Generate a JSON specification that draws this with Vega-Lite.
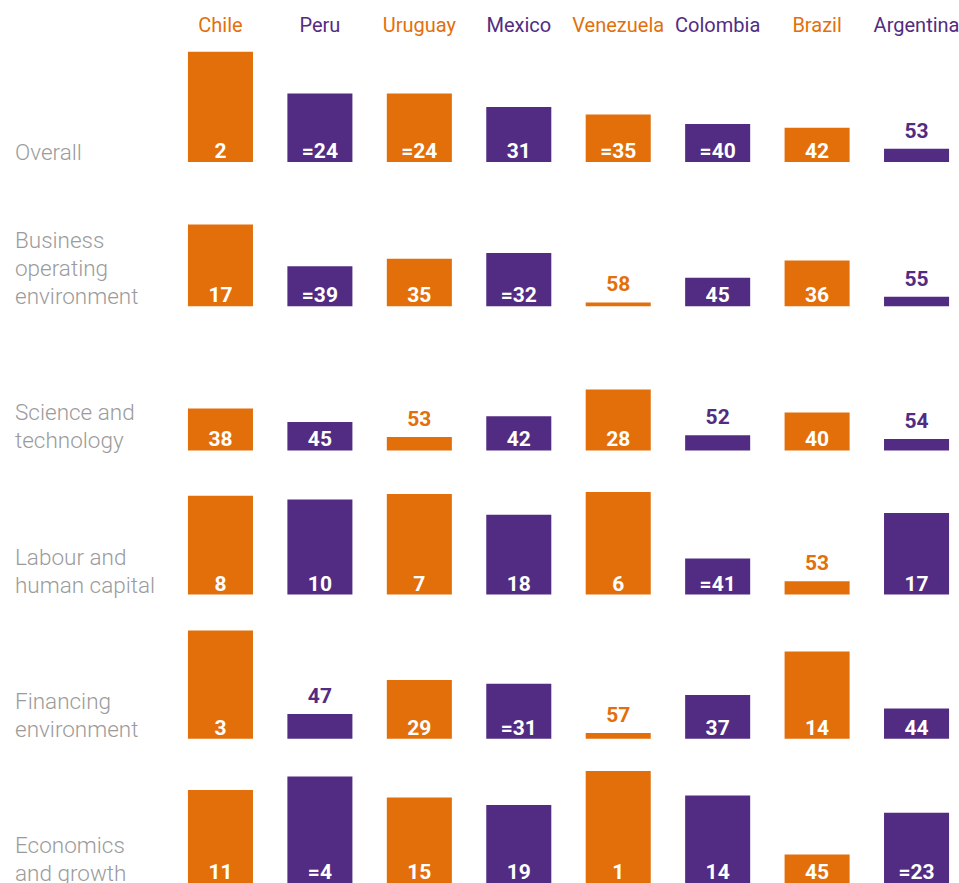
{
  "$schema": "https://vega.github.io/schema/vega-lite/v6.json",
  "padding": {"top": 15, "left": 15, "right": 0, "bottom": 0},
  "background": "white",
  "config": {
    "view": {"stroke": null},
    "font": "Roboto, sans-serif"
  },
  "data": {
    "values": [
      {"category": "Overall", "country": "Chile", "rank": 2, "label": "2"},
      {"category": "Overall", "country": "Peru", "rank": 24, "label": "=24"},
      {"category": "Overall", "country": "Uruguay", "rank": 24, "label": "=24"},
      {"category": "Overall", "country": "Mexico", "rank": 31, "label": "31"},
      {"category": "Overall", "country": "Venezuela", "rank": 35, "label": "=35"},
      {"category": "Overall", "country": "Colombia", "rank": 40, "label": "=40"},
      {"category": "Overall", "country": "Brazil", "rank": 42, "label": "42"},
      {"category": "Overall", "country": "Argentina", "rank": 53, "label": "53"},
      {"category": "Business operating environment", "country": "Chile", "rank": 17, "label": "17"},
      {"category": "Business operating environment", "country": "Peru", "rank": 39, "label": "=39"},
      {"category": "Business operating environment", "country": "Uruguay", "rank": 35, "label": "35"},
      {"category": "Business operating environment", "country": "Mexico", "rank": 32, "label": "=32"},
      {"category": "Business operating environment", "country": "Venezuela", "rank": 58, "label": "58"},
      {"category": "Business operating environment", "country": "Colombia", "rank": 45, "label": "45"},
      {"category": "Business operating environment", "country": "Brazil", "rank": 36, "label": "36"},
      {"category": "Business operating environment", "country": "Argentina", "rank": 55, "label": "55"},
      {"category": "Science and technology", "country": "Chile", "rank": 38, "label": "38"},
      {"category": "Science and technology", "country": "Peru", "rank": 45, "label": "45"},
      {"category": "Science and technology", "country": "Uruguay", "rank": 53, "label": "53"},
      {"category": "Science and technology", "country": "Mexico", "rank": 42, "label": "42"},
      {"category": "Science and technology", "country": "Venezuela", "rank": 28, "label": "28"},
      {"category": "Science and technology", "country": "Colombia", "rank": 52, "label": "52"},
      {"category": "Science and technology", "country": "Brazil", "rank": 40, "label": "40"},
      {"category": "Science and technology", "country": "Argentina", "rank": 54, "label": "54"},
      {"category": "Labour and human capital", "country": "Chile", "rank": 8, "label": "8"},
      {"category": "Labour and human capital", "country": "Peru", "rank": 10, "label": "10"},
      {"category": "Labour and human capital", "country": "Uruguay", "rank": 7, "label": "7"},
      {"category": "Labour and human capital", "country": "Mexico", "rank": 18, "label": "18"},
      {"category": "Labour and human capital", "country": "Venezuela", "rank": 6, "label": "6"},
      {"category": "Labour and human capital", "country": "Colombia", "rank": 41, "label": "=41"},
      {"category": "Labour and human capital", "country": "Brazil", "rank": 53, "label": "53"},
      {"category": "Labour and human capital", "country": "Argentina", "rank": 17, "label": "17"},
      {"category": "Financing environment", "country": "Chile", "rank": 3, "label": "3"},
      {"category": "Financing environment", "country": "Peru", "rank": 47, "label": "47"},
      {"category": "Financing environment", "country": "Uruguay", "rank": 29, "label": "29"},
      {"category": "Financing environment", "country": "Mexico", "rank": 31, "label": "=31"},
      {"category": "Financing environment", "country": "Venezuela", "rank": 57, "label": "57"},
      {"category": "Financing environment", "country": "Colombia", "rank": 37, "label": "37"},
      {"category": "Financing environment", "country": "Brazil", "rank": 14, "label": "14"},
      {"category": "Financing environment", "country": "Argentina", "rank": 44, "label": "44"},
      {"category": "Economics and growth", "country": "Chile", "rank": 11, "label": "11"},
      {"category": "Economics and growth", "country": "Peru", "rank": 4, "label": "=4"},
      {"category": "Economics and growth", "country": "Uruguay", "rank": 15, "label": "15"},
      {"category": "Economics and growth", "country": "Mexico", "rank": 19, "label": "19"},
      {"category": "Economics and growth", "country": "Venezuela", "rank": 1, "label": "1"},
      {"category": "Economics and growth", "country": "Colombia", "rank": 14, "label": "14"},
      {"category": "Economics and growth", "country": "Brazil", "rank": 45, "label": "45"},
      {"category": "Economics and growth", "country": "Argentina", "rank": 23, "label": "=23"}
    ]
  },
  "spacing": 30.2,
  "facet": {
    "row": {
      "field": "category",
      "type": "nominal",
      "sort": ["Overall", "Business operating environment", "Science and technology", "Labour and human capital", "Financing environment", "Economics and growth"],
      "title": null,
      "header": {
        "labelAngle": 0,
        "labelAlign": "left",
        "labelAnchor": "end",
        "labelBaseline": "alphabetic",
        "labelOrient": "left",
        "labelFontSize": 22.5,
        "labelFontWeight": 300,
        "labelColor": "#9b9b9b",
        "labelLineHeight": 28,
        "labelPadding": 10,
        "labelExpr": "datum.value == 'Business operating environment' ? [pad('', 9, '\u2800'), '\u2800', 'Business', 'operating', 'environment'] : datum.value == 'Science and technology' ? [pad('', 9, '\u2800'), '\u2800', '\u2800', 'Science and', 'technology'] : datum.value == 'Labour and human capital' ? [pad('', 9, '\u2800'), '\u2800', '\u2800', 'Labour and', 'human capital'] : datum.value == 'Financing environment' ? [pad('', 9, '\u2800'), '\u2800', '\u2800', 'Financing', 'environment'] : datum.value == 'Economics and growth' ? [pad('', 9, '\u2800'), '\u2800', '\u2800', 'Economics', 'and growth'] : [pad('', 9, '\u2800'), '\u2800', '\u2800', '\u2800', datum.value]"
      }
    }
  },
  "spec": {
    "width": 781,
    "height": 114,
    "encoding": {
      "x": {
        "field": "country",
        "type": "nominal",
        "sort": null,
        "scale": {"paddingInner": 0.346, "paddingOuter": 0.1},
        "axis": {
          "orient": "top",
          "title": null,
          "domain": false,
          "ticks": false,
          "labelAngle": 0,
          "labelFontSize": 20,
          "labelPadding": 13,
          "labelColor": {
            "condition": {"test": "indexof(['Chile', 'Uruguay', 'Venezuela', 'Brazil'], datum.value) >= 0", "value": "#E36F0B"},
            "value": "#522C82"
          }
        }
      }
    },
    "layer": [
      {
        "mark": {"type": "bar"},
        "encoding": {
          "y": {"field": "rank", "type": "quantitative", "scale": {"domain": [0, 60], "reverse": true, "nice": false, "zero": false}, "axis": null},
          "y2": {"datum": 60},
          "color": {
            "field": "country",
            "type": "nominal",
            "scale": {
              "domain": ["Chile", "Peru", "Uruguay", "Mexico", "Venezuela", "Colombia", "Brazil", "Argentina"],
              "range": ["#E36F0B", "#522C82", "#E36F0B", "#522C82", "#E36F0B", "#522C82", "#E36F0B", "#522C82"]
            },
            "legend": null
          }
        }
      },
      {
        "transform": [{"filter": "datum.rank <= 46"}],
        "mark": {"type": "text", "baseline": "bottom", "fontWeight": "bold", "fontSize": 21, "color": "white"},
        "encoding": {
          "y": {"datum": 60, "type": "quantitative"},
          "text": {"field": "label"}
        }
      },
      {
        "transform": [{"filter": "datum.rank > 46"}],
        "mark": {"type": "text", "baseline": "bottom", "fontWeight": "bold", "fontSize": 21, "dy": -7},
        "encoding": {
          "y": {"field": "rank", "type": "quantitative"},
          "text": {"field": "label"},
          "color": {"field": "country", "type": "nominal"}
        }
      }
    ]
  }
}
